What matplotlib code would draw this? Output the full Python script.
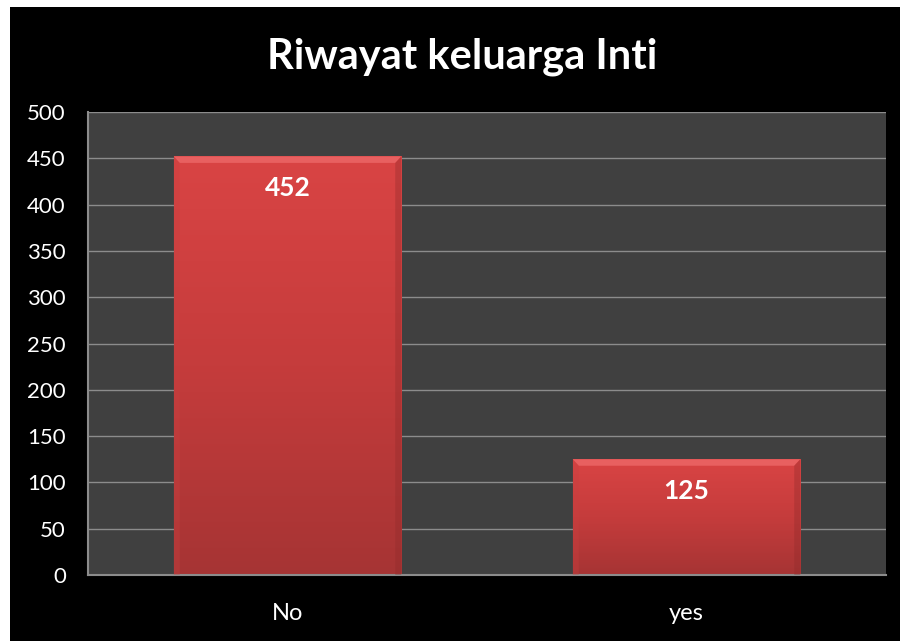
import matplotlib
matplotlib.use("Agg")
import matplotlib.pyplot as plt
import numpy as np
from matplotlib.patches import Rectangle, Polygon

categories = ["No", "yes"]
values = [452, 125]
yticks = [0, 50, 100, 150, 200, 250, 300, 350, 400, 450, 500]
title = "Riwayat keluarga Inti"

plt.rcParams['font.family'] = ['Lato', 'DejaVu Sans']

W, H = 900, 641
fig = plt.figure(figsize=(W / 100, H / 100), dpi=100, facecolor="white")
# black chart area
fig.patches.append(Rectangle((10 / W, 0), 890 / W, (H - 7) / H, transform=fig.transFigure,
                             facecolor="black", edgecolor="none", zorder=-5))

ax = fig.add_axes([88 / W, (H - 575) / H, (886 - 88) / W, (575 - 112) / H])
ax.set_zorder(2)
ax.set_facecolor("#404040")
ax.set_xlim(-0.5, 1.5)
ax.set_ylim(0, 500)
ax.set_yticks(yticks)
ax.set_xticks(range(len(categories)))
ax.set_xticklabels(categories)
ax.tick_params(axis="both", colors="white", length=0)
ax.tick_params(axis="y", pad=16, labelsize=16)
ax.tick_params(axis="x", pad=20, labelsize=17)
ax.grid(axis="y", color="#8c8c8c", linewidth=1.0, zorder=1)
ax.set_axisbelow(True)
for s in ["top", "right"]:
    ax.spines[s].set_visible(False)
for s in ["left", "bottom"]:
    ax.spines[s].set_color("#8c8c8c")
    ax.spines[s].set_linewidth(1.5)

width = 0.57
cmap = matplotlib.colors.LinearSegmentedColormap.from_list("r", ["#a63434", "#c53c3c", "#d94444"])
grad = np.linspace(0, 1, 256).reshape(-1, 1)
bars = ax.bar(range(len(categories)), values, width=width, color="none", zorder=2)
for b, v in zip(bars, values):
    x0, w = b.get_x(), b.get_width()
    im = ax.imshow(grad, extent=(x0, x0 + w, 0, v), origin="lower", cmap=cmap,
                   aspect="auto", zorder=2)
    im.set_clip_path(b)
    bev_y = 7
    bev_x = 0.015
    ax.add_patch(Polygon([(x0, v), (x0 + w, v), (x0 + w - bev_x, v - bev_y), (x0 + bev_x, v - bev_y)],
                         closed=True, facecolor="#e86060", edgecolor="none", zorder=3))
    ax.add_patch(Polygon([(x0, v), (x0 + bev_x, v - bev_y), (x0 + bev_x, 0), (x0, 0)],
                         closed=True, facecolor="#c94040", edgecolor="none", zorder=3, alpha=0.35))
    ax.add_patch(Polygon([(x0 + w, v), (x0 + w - bev_x, v - bev_y), (x0 + w - bev_x, 0), (x0 + w, 0)],
                         closed=True, facecolor="#8f2a2a", edgecolor="none", zorder=3, alpha=0.35))
    ax.annotate(str(v), (x0 + w / 2, v), xytext=(0, -23), textcoords="offset points",
                ha="center", va="center", color="white", fontsize=19, fontweight="bold", zorder=4)
ax.set_xlim(-0.5, 1.5)
ax.set_ylim(0, 500)

fig.text(462 / W, 1 - 57 / H, title, ha="center", va="center", color="white",
         fontsize=30, fontweight="bold")

fig.savefig("out.png", dpi=100, facecolor="white")
